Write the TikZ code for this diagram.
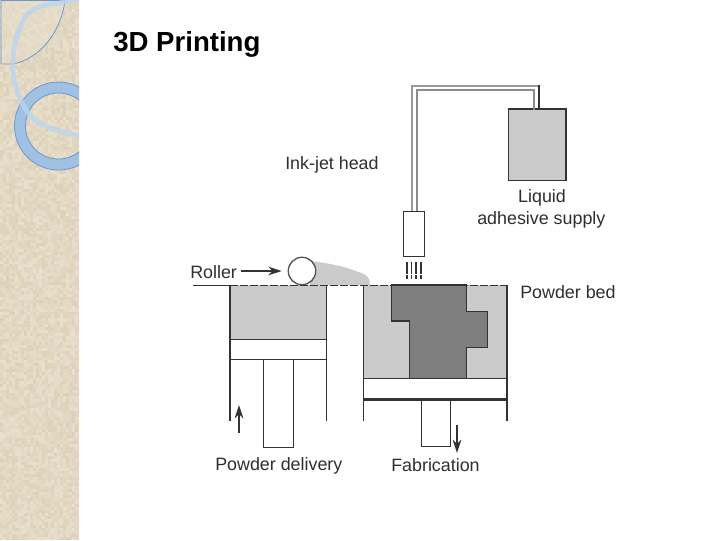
\documentclass[tikz,border=0pt]{standalone}
\usepackage{fontspec}
\setmainfont{Liberation Sans}
\usetikzlibrary{arrows.meta}
\definecolor{strip}{HTML}{E2D8C3}
\definecolor{stripA}{HTML}{E9E0CE}
\definecolor{stripB}{HTML}{DCD0B8}
\definecolor{ringc}{HTML}{9FC1E3}
\definecolor{ringe}{HTML}{6E96CC}
\definecolor{arcc}{HTML}{B9D5EF}
\definecolor{ink}{HTML}{333333}
\definecolor{powder}{HTML}{CBCBCB}
\definecolor{part}{HTML}{7E7E7E}
\definecolor{txt}{HTML}{2E2E33}
\tikzset{
  wall/.style={draw=ink,line width=1.05pt},
  lab/.style={anchor=base west,inner sep=0pt,text=txt,font=\fontsize{13.4pt}{16pt}\selectfont},
  tip/.style={-{Stealth[length=10pt,width=6.5pt]},draw=ink,line width=1.1pt}
}
\pgfmathsetseed{7}
\begin{document}
\begin{tikzpicture}[x=0.75pt,y=-0.75pt]
\useasboundingbox (0,0) rectangle (720,540);
\fill[white] (0,0) rectangle (720,540);
% textured strip
\begin{scope}
\clip (0,0) rectangle (79,540);
\fill[strip] (0,0) rectangle (79,540);
\foreach \j in {0,3,...,537}{
  \foreach \i in {0,3,...,78}{
    \pgfmathtruncatemacro\m{random(0,100)}
    \fill[stripA!\m!stripB] (\i,\j) rectangle ++(3,3);
  }
}
% corner leaf
\fill[stripA,opacity=.45] (1,0) -- (65,0) .. controls (62,30) and (40,60) .. (12,64) -- (1,64) -- cycle;
\draw[ringe,line width=0.6pt] (1,0) -- (1,64) -- (12,64) .. controls (40,60) and (62,30) .. (65,0);
\draw[ringe,line width=0.6pt] (1,0.5) -- (65,0.5);
% ring
\fill[ringc,even odd rule] (58.5,126) circle[radius=44] (58.5,126) circle[radius=33];
\draw[ringe,line width=0.6pt] (58.5,126) circle[radius=44] (58.5,126) circle[radius=33];
% light arc
\draw[arcc,opacity=.8,line width=3.6pt] plot[smooth,tension=0.7] coordinates {(80,-1) (65,2) (33,10) (18,33) (13,63) (17,90) (30,115) (50,128) (80,136)};
\end{scope}
\node[anchor=base west,inner sep=0pt,font=\bfseries\fontsize{20.7pt}{24pt}\selectfont] (title) at (113,51) {3D Printing};
% powder and heap
\fill[powder] (230,285) rectangle (326.5,339);
\fill[powder] (363.5,285) rectangle (507,378.7);
\fill[powder] (312,261) .. controls (325,263) and (345,266) .. (358,272) .. controls (367,274) and (370,278) .. (370,285) -- (310,285) -- cycle;
% part
\draw[wall,fill=part] (391.7,285) -- (391.7,321) -- (409.3,321) -- (409.3,378.7) -- (466.3,378.7) -- (466.3,347.3) -- (487.3,347.3) -- (487.3,311.3) -- (466.3,311.3) -- (466.3,285) -- cycle;
% bed line
\coordinate (bedL) at (193,285.3);
\coordinate (bedA) at (230,285.3);
\coordinate (bedB) at (507,285.3);
\draw[ink,line width=1.1pt] (bedL) -- (bedA);
\draw[ink,line width=1.1pt,dash pattern=on 6pt off 1.5pt] (bedA) -- (bedB);
% left cylinder
\coordinate (lA) at (230,285.3);
\coordinate (lB) at (230,420.7);
\coordinate (lC) at (326.5,285.3);
\coordinate (lD) at (326.5,420.7);
\draw[wall] (lA) -- (lB);
\draw[wall] (lC) -- (lD);
\draw[wall] (230,339.3) -- (326.5,339.3);
\draw[wall] (230,359.3) -- (326.5,359.3);
\draw[wall] (263.5,359.3) -- (263.5,447.7) -- (293.7,447.7) -- (293.7,359.3);
% right cylinder
\coordinate (rA) at (363.5,285.3);
\coordinate (rB) at (363.5,421);
\coordinate (rC) at (507,285.3);
\coordinate (rD) at (507,421);
\draw[wall] (rA) -- (rB);
\draw[wall] (rC) -- (rD);
\draw[wall] (363.5,378.7) -- (507,378.7);
\draw[draw=ink,line width=1.8pt] (363.5,399.3) -- (507,399.3);
\draw[wall] (421.3,399.3) -- (421.3,446.7) -- (450.3,446.7) -- (450.3,399.3);
% roller
\node[circle,draw=ink!85,fill=white,line width=1pt,minimum size=20.6pt,inner sep=0pt] (roller) at (302,271) {};
% supply and tube
\node[draw=ink,fill=powder,line width=1pt,minimum width=43.3pt,minimum height=53.3pt,inner sep=0pt] (supply) at (537.2,145.2) {};
\node[draw=ink,fill=white,line width=1pt,minimum width=15.7pt,minimum height=33.7pt,inner sep=0pt] (head) at (413.8,234.2) {};
\draw[draw=ink,line width=1.9pt] (supply.north west) -- (supply.north east);
\draw[draw=black!40,line width=1.5pt] (412.3,211) -- (412.3,85.7) -- (538,85.7);
\draw[draw=black!45,line width=1.3pt] (417,211) -- (417,90.3) -- (534.3,90.3) -- (534.3,109.7);
\draw[ink,line width=1.1pt] (539,85) -- (539,109.7);
% droplets
\foreach \x/\w in {407/1.6,411.7/1.1,416.2/1.1,421/1.1}{\draw[ink,line width=\w pt,dash pattern=on 9pt off 0.8pt on 3pt off 1pt] (\x,262) -- (\x,279);}
% labels
\node[lab] (ink) at (285,169) {Ink-jet head};
\node[lab,anchor=base] (liquid) at (542,202) {Liquid};
\node[lab] (adh) at (477,224) {adhesive supply};
\node[lab] (bed) at (520,298) {Powder bed};
\node[lab] (rol) at (190,278) {Roller};
\node[lab] (pd) at (215,470) {Powder delivery};
\node[lab] (fab) at (391,471) {Fabrication};
% arrows
\draw[tip,shorten >=4.5pt] (rol.east |- roller) ++(4,0) -- (roller.west);
\coordinate (upS) at (239,433);
\coordinate (upE) at (239,405);
\draw[tip] (upS) -- (upE);
\coordinate (dnS) at (457,425);
\coordinate (dnE) at (457,453);
\draw[tip] (dnS) -- (dnE);
\end{tikzpicture}
\end{document}
